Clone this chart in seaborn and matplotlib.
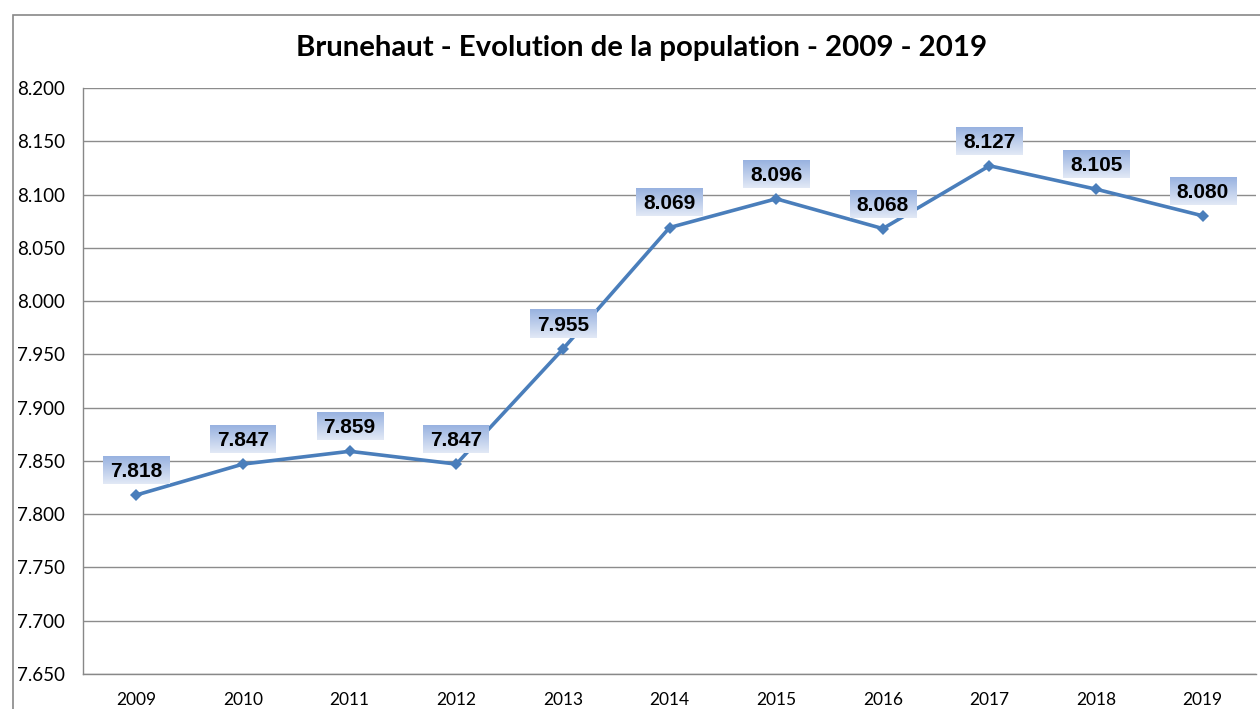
import numpy as np
import pandas as pd
import seaborn as sns
import matplotlib.pyplot as plt
from matplotlib.patches import Rectangle
from matplotlib.colors import LinearSegmentedColormap
from matplotlib.ticker import FuncFormatter

years = ['2009', '2010', '2011', '2012', '2013', '2014', '2015', '2016', '2017', '2018', '2019']
population = [7818, 7847, 7859, 7847, 7955, 8069, 8096, 8068, 8127, 8105, 8080]
title = 'Brunehaut - Evolution de la population - 2009 - 2019'

df = pd.DataFrame({'year': years, 'pop': population})

sns.set_theme(style='white')
plt.rcParams['font.family'] = ['Lato', 'DejaVu Sans']
plt.rcParams['text.color'] = 'black'

fig = plt.figure(figsize=(12.6, 7.09), dpi=100)
ax = fig.add_axes([0.0659, 0.0494, 0.931, 0.8265])

x = np.arange(len(years))
sns.lineplot(x=x, y=df['pop'], ax=ax, color='#4a7ebb', linewidth=2.6,
             marker='D', markersize=6.5, markeredgewidth=0, zorder=5)

ax.set_xlim(-0.5, len(years) - 0.5)
ax.set_ylim(7650, 8200)
ax.set_yticks(np.arange(7650, 8201, 50))
ax.yaxis.set_major_formatter(FuncFormatter(lambda v, p: f'{v / 1000:.3f}'))
ax.set_xticks(x)
ax.set_xticklabels(years)
ax.set_xticks(np.arange(-0.5, len(years), 1), minor=True)
ax.tick_params(axis='x', which='major', length=0, labelsize=12.5, pad=13, labelcolor='black')
ax.tick_params(axis='x', which='minor', length=5, width=1, color='#888888', direction='out')
ax.tick_params(axis='y', length=5, width=1, color='#888888', direction='out', labelsize=13.5,
               pad=8, labelcolor='black')
ax.set_xlabel('')
ax.set_ylabel('')
ax.grid(axis='y', color='#8c8c8c', linewidth=1)
ax.set_axisbelow(True)
for s in ['top', 'right']:
    ax.spines[s].set_visible(False)
for s in ['left', 'bottom']:
    ax.spines[s].set_color('#888888')
    ax.spines[s].set_linewidth(1)

fig.text(0.5095, 0.933, title, ha='center', va='center', fontsize=21.2, fontweight='bold',
         color='black')

# outer chart frame
fig.patches.append(Rectangle((13 / 1260, -0.1), 1.2, 1 - 15 / 709 + 0.1, transform=fig.transFigure,
                             fill=False, edgecolor='#888888', linewidth=1.2))

# data labels with gradient boxes
cmap = LinearSegmentedColormap.from_list('lbl', ['#e2e9f6', '#98b2e0'])
grad = np.linspace(0, 1, 64).reshape(-1, 1)
texts = []
for xi, v in zip(x, population):
    t = ax.annotate(f'{v / 1000:.3f}', (xi, v), xytext=(0, 17), textcoords='offset points',
                    ha='center', va='center', fontsize=15, fontweight='bold', color='black',
                    family=['Liberation Sans', 'DejaVu Sans'], zorder=7)
    texts.append(t)

fig.canvas.draw()
r = fig.canvas.get_renderer()
inv = ax.transData.inverted()
for t in texts:
    bb = t.get_window_extent(r)
    x0, y0 = inv.transform((bb.x0 - 7, bb.y0 - 3))
    x1, y1 = inv.transform((bb.x1 + 7, bb.y1 + 6))
    ax.imshow(grad, cmap=cmap, extent=(x0, x1, y0, y1), origin='lower',
              aspect='auto', zorder=6)
ax.set_xlim(-0.5, len(years) - 0.5)
ax.set_ylim(7650, 8200)

fig.savefig('out.png', dpi=100)
